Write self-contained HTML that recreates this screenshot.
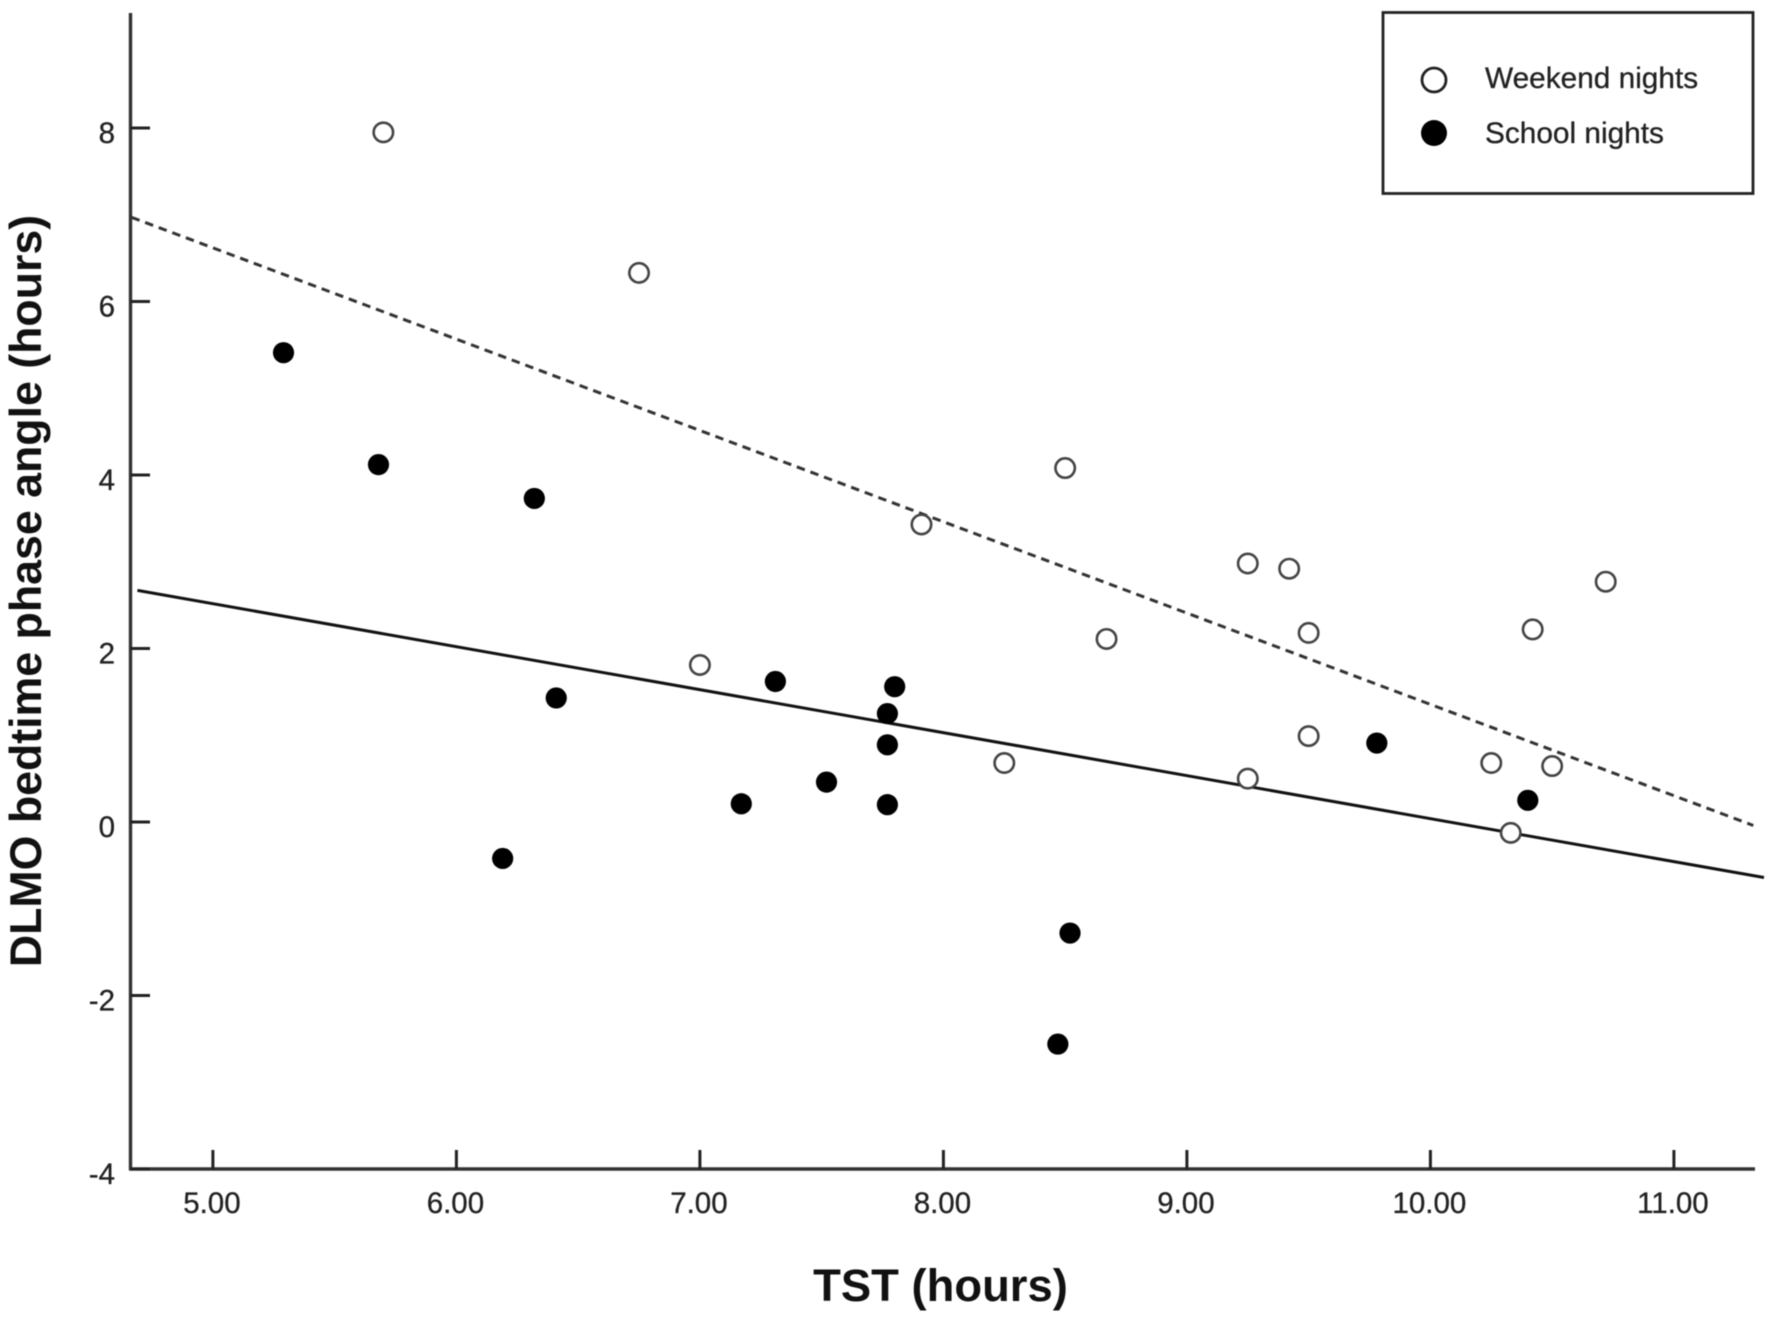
<!DOCTYPE html>
<html lang="en">
<head>
<meta charset="utf-8">
<title>DLMO bedtime phase angle vs TST</title>
<style>
html,body{margin:0;padding:0;background:#fff;width:1772px;height:1318px;overflow:hidden}
svg{display:block;filter:blur(0.4px)}
text{font-family:"Liberation Sans",Arial,sans-serif;fill:#222;stroke:#222;stroke-width:0.3px}
</style>
</head>
<body>
<svg id="chart" xmlns="http://www.w3.org/2000/svg" width="1772" height="1318" viewBox="0 0 1772 1318">
  <rect x="0" y="0" width="1772" height="1318" fill="#fff"/>
  <g id="marks"></g>
  <g id="axes"></g>
  <text x="940.5" y="1301" text-anchor="middle" font-size="45.4" font-weight="bold" style="fill:#111;stroke:none">TST (hours)</text>
  <text transform="translate(41,591) rotate(-90)" text-anchor="middle" font-size="44.7" font-weight="bold" style="fill:#111;stroke:none">DLMO bedtime phase angle (hours)</text>
  <g>
    <rect x="1383" y="12.5" width="370" height="181" fill="#fff" stroke="#222" stroke-width="2.8"/>
    <circle cx="1434" cy="80" r="12" fill="#fff" stroke="#222" stroke-width="2.8"/>
    <text x="1485" y="88" font-size="29.8">Weekend nights</text>
    <circle cx="1434" cy="133" r="13" fill="#000"/>
    <text x="1485" y="143" font-size="29.8">School nights</text>
  </g>
</svg>
<script>
const xTicks = [5, 6, 7, 8, 9, 10, 11];
const xTickLabels = ["5.00", "6.00", "7.00", "8.00", "9.00", "10.00", "11.00"];
const yTicks = [-4, -2, 0, 2, 4, 6, 8];
const yTickLabels = ["-4", "-2", "0", "2", "4", "6", "8"];
const weekendX = [5.70, 6.75, 8.50, 7.91, 9.25, 9.42, 10.72, 10.42, 9.50, 8.67, 7.00, 9.50, 8.25, 10.25, 10.50, 9.25, 10.33];
const weekendY = [7.95, 6.33, 4.08, 3.43, 2.98, 2.92, 2.77, 2.22, 2.18, 2.11, 1.81, 0.99, 0.68, 0.68, 0.645, 0.50, -0.125];
const schoolX = [5.29, 5.68, 6.32, 6.41, 7.31, 7.80, 7.77, 7.77, 7.52, 7.17, 7.77, 6.19, 9.78, 10.40, 8.52, 8.47];
const schoolY = [5.41, 4.12, 3.73, 1.43, 1.62, 1.56, 1.25, 0.89, 0.46, 0.21, 0.20, -0.42, 0.91, 0.25, -1.28, -2.56];
const weekendFitX = [4.666, 11.326];
const weekendFitY = [6.97, -0.04];
const schoolFitX = [4.69, 11.37];
const schoolFitY = [2.67, -0.64];

const NS = 'http://www.w3.org/2000/svg';
const xScale = v => 212.9 + 243.5 * (v - 5);
const yScale = v => 822 - 86.75 * v;
const axesG = document.getElementById('axes');
const marksG = document.getElementById('marks');
function make(parent, tag, attrs) {
  const el = document.createElementNS(NS, tag);
  for (const k in attrs) el.setAttribute(k, attrs[k]);
  parent.appendChild(el);
  return el;
}

const yAxis = make(axesG, 'line', {x1: 130.5, y1: 13, x2: 130.5, y2: 1170, stroke: '#333', 'stroke-width': 3.4});


const xAxis = make(axesG, 'line', {x1: 129, y1: 1169, x2: 1755, y2: 1169, stroke: '#333', 'stroke-width': 3.4});



xTicks.forEach((t, i) => {
  const tick = make(axesG, 'line', {x1: xScale(t), y1: 1150, x2: xScale(t), y2: 1169, stroke: '#222', 'stroke-width': 3});
  
  
  const label = make(axesG, 'text', {x: xScale(t) - 1, y: 1213, 'text-anchor': 'middle', 'font-size': 29.5});
  label.textContent = xTickLabels[i];
  
  
});

yTicks.forEach((t, i) => {
  const tick = make(axesG, 'line', {x1: 130.5, y1: yScale(t), x2: 150, y2: yScale(t), stroke: '#222', 'stroke-width': 3});
  
  
  const label = make(axesG, 'text', {x: 115, y: yScale(t) + 15, 'text-anchor': 'end', 'font-size': 29.5});
  label.textContent = yTickLabels[i];
  
  
});

const weekendFit = make(marksG, 'line', {x1: xScale(weekendFitX[0]), y1: yScale(weekendFitY[0]), x2: xScale(weekendFitX[1]), y2: yScale(weekendFitY[1]), stroke: '#333', 'stroke-width': 3, 'stroke-dasharray': '8.5 6'});


const schoolFit = make(marksG, 'line', {x1: xScale(schoolFitX[0]), y1: yScale(schoolFitY[0]), x2: xScale(schoolFitX[1]), y2: yScale(schoolFitY[1]), stroke: '#111', 'stroke-width': 3});



weekendX.forEach((x, i) => {
  const dot = make(marksG, 'circle', {cx: xScale(x), cy: yScale(weekendY[i]), r: 9.7, fill: '#fff', stroke: '#444', 'stroke-width': 2.6});
  
  
});
schoolX.forEach((x, i) => {
  const dot = make(marksG, 'circle', {cx: xScale(x), cy: yScale(schoolY[i]), r: 10.6, fill: '#000'});
  
  
});
</script>
</body>
</html>
